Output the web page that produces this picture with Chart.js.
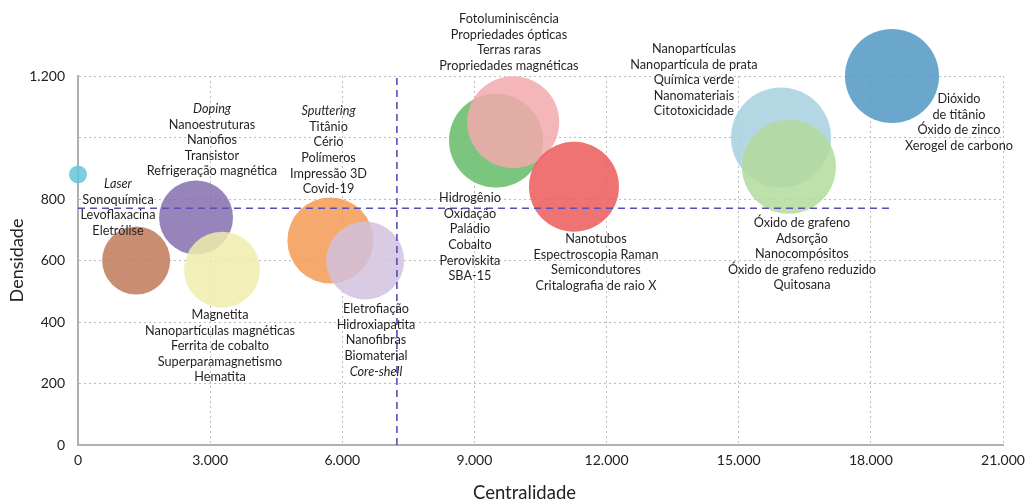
<!DOCTYPE html>
<html>
<head>
<meta charset="utf-8">
<script src="https://cdn.jsdelivr.net/npm/chart.js@4.4.1/dist/chart.umd.min.js"></script>
<style>
html,body{margin:0;padding:0;background:#fff;}
#wrap{width:1027px;height:502px;}
</style>
</head>
<body>
<div id="wrap"><canvas id="c" width="1027" height="502"></canvas></div>
<script>
// ---- data ----
const centralidade = [0, 1320, 2680, 3270, 5730, 6520, 9490, 9880, 11260, 15960, 16140, 18480];
const densidade    = [880, 600, 740, 570, 665, 600, 990, 1050, 840, 1000, 905, 1200];
const tamanho      = [9, 34, 37, 38, 43, 39, 47, 46, 45, 50, 47, 47];
const mediaCentralidade = 7240;
const mediaDensidade = 770;
const xTicks = [0, 3000, 6000, 9000, 12000, 15000, 18000, 21000];
const xTickLabels = ["0", "3.000", "6.000", "9.000", "12.000", "15.000", "18.000", "21.000"];
const yTicks = [0, 200, 400, 600, 800, 1000, 1200];
const yTickLabels = ["0", "200", "400", "600", "800", "", "1.200"];

// labels (annotation text) and anchors in data units (first line centre)
const labelLines = [
  ["Fotoluminiscência","Propriedades ópticas","Terras raras","Propriedades magnéticas"],
  ["Hidrogênio","Oxidação","Paládio","Cobalto","Peroviskita","SBA-15"],
  ["Nanotubos","Espectroscopia Raman","Semicondutores","Critalografia de raio X"],
  ["Nanopartículas","Nanopartícula de prata","Química verde","Nanomateriais","Citotoxicidade"],
  ["Dióxido","de titânio","Óxido de zinco","Xerogel de carbono"],
  ["Óxido de grafeno","Adsorção","Nanocompósitos","Óxido de grafeno reduzido","Quitosana"],
  ["Doping","Nanoestruturas","Nanofios","Transistor","Refrigeração magnética"],
  ["Laser","Sonoquímica","Levoflaxacina","Eletrólise"],
  ["Sputtering","Titânio","Cério","Polímeros","Impressão 3D","Covid-19"],
  ["Eletrofiação","Hidroxiapatita","Nanofibras","Biomaterial","Core-shell"],
  ["Magnetita","Nanopartículas magnéticas","Ferrita de cobalto","Superparamagnetismo","Hematita"]
];
const labelX = [9784, 8899, 11759, 13984, 20000, 16436, 3042, 908, 5687, 6765, 3224];
const labelY = [1385, 803, 670, 1288, 1125, 722, 1093, 849, 1086, 442, 423];
const italicTerms = ["Laser","Doping","Sputtering","Core-shell"];
const xTitle = "Centralidade";
const yTitle = "Densidade";

// ---- styles ----
const apparent = ["#7ccde0","#c98d72","#9784bb","#f1f0b9","#f6a96d","#d9cbe3","#7cc57f","#f5b6b9","#ef7474","#b4d7e4","#bee0ab","#6ba6cd"];
const ALPHA = 0.85;
function toRgba(hex){
  const r=parseInt(hex.slice(1,3),16), g=parseInt(hex.slice(3,5),16), b=parseInt(hex.slice(5,7),16);
  const f=v=>Math.max(0,Math.round((v-(1-ALPHA)*255)/ALPHA));
  return `rgba(${f(r)},${f(g)},${f(b)},${ALPHA})`;
}
const FONT = "Lato, 'Open Sans', sans-serif";

const bubbleData = centralidade.map((x,i)=>({x:x, y:densidade[i], r:tamanho[i]}));

const labelPlugin = {
  id:'labels',
  afterDraw(chart){
    const ctx = chart.ctx, xs = chart.scales.x, ys = chart.scales.y;
    ctx.save();
    ctx.fillStyle = '#231f20';
    ctx.textAlign = 'center';
    ctx.textBaseline = 'middle';
    const lh = 15.6;
    labelLines.forEach((lines, g)=>{
      const cx = xs.getPixelForValue(labelX[g]);
      const cy = ys.getPixelForValue(labelY[g]);
      lines.forEach((t, k)=>{
        ctx.font = (italicTerms.includes(t) ? 'italic ' : '') + '12.7px ' + FONT;
        ctx.fillText(t, cx, cy + k*lh);
      });
    });
    // x axis title
    const ca = chart.chartArea;
    ctx.fillStyle = '#222';
    ctx.font = '18.5px ' + FONT;
    ctx.fillText(xTitle, (ca.left + ca.right)/2 - 16, chart.height - 9);
    ctx.restore();
  }
};

new Chart(document.getElementById('c'), {
  type:'bubble',
  data:{
    datasets:[
      {
        type:'line',
        data:[{x:0,y:mediaDensidade},{x:18500,y:mediaDensidade}],
        borderColor:'#5a4db3', borderWidth:1.6, borderDash:[7,5],
        pointRadius:0, fill:false, order:-1, clip:false
      },
      {
        type:'line',
        data:[{x:mediaCentralidade,y:0},{x:mediaCentralidade,y:1200}],
        borderColor:'#5a4db3', borderWidth:1.6, borderDash:[7,5],
        pointRadius:0, fill:false, order:-1, clip:false
      },
      {
        data:bubbleData,
        backgroundColor:apparent.map(toRgba),
        borderWidth:0,
        hoverBorderWidth:0,
        clip:false,
        order:0
      }
    ]
  },
  options:{
    responsive:false,
    animation:false,
    events:[],
    layout:{autoPadding:false, padding:{top:76,right:24,bottom:0,left:0}},
    plugins:{legend:{display:false},tooltip:{enabled:false}},
    scales:{
      x:{
        type:'linear', min:0, max:21000,
        afterBuildTicks:s=>{s.ticks = xTicks.map(v=>({value:v}));},
        afterFit:s=>{s.height=57; s.paddingRight=0; s.paddingLeft=0;},
        grid:{color:'#bdbdbd', lineWidth:1, drawTicks:false},
        border:{color:'#b0b0b0', width:2, dash:[2,3]},
        ticks:{color:'#222', font:{family:FONT,size:14}, padding:7, maxRotation:0, callback:(v,i)=>xTickLabels[i]},
        title:{display:false}
      },
      y:{
        type:'linear', min:0, max:1200,
        afterBuildTicks:s=>{s.ticks = yTicks.map(v=>({value:v}));},
        afterFit:s=>{s.width=78; s.paddingTop=0; s.paddingBottom=0;},
        grid:{color:'#bdbdbd', lineWidth:1, drawTicks:false},
        border:{color:'#b0b0b0', width:2, dash:[2,3]},
        ticks:{color:'#222', font:{family:FONT,size:14}, padding:13, callback:(v,i)=>yTickLabels[i]},
        title:{display:true, text:yTitle, color:'#222', font:{family:FONT,size:18}, padding:{top:6,bottom:0}}
      }
    }
  },
  plugins:[labelPlugin]
});
</script>
</body>
</html>
